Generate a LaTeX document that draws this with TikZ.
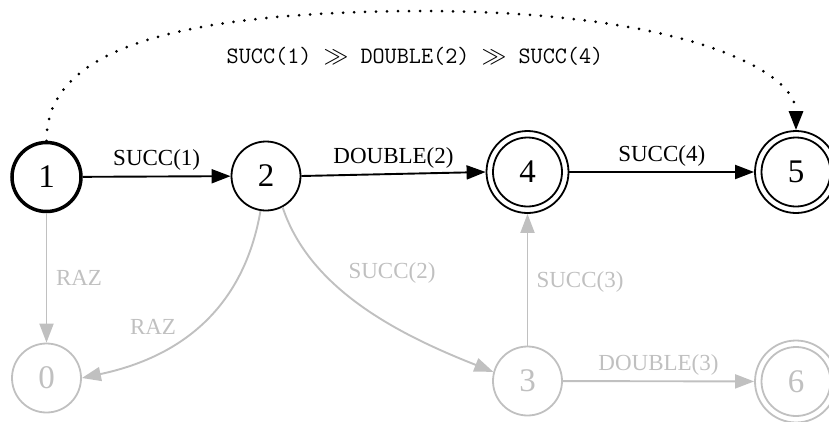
\documentclass[tikz,border=0pt]{standalone}
\usepackage{fontspec}
\newfontfamily\timesf{Liberation Serif}
\usetikzlibrary{arrows.meta}
\definecolor{gv}{HTML}{C0C0C0}
\begin{document}
\begin{tikzpicture}[x=1pt,y=-1pt,
  st/.style={circle,draw,line width=1.8pt,minimum size=69pt,inner sep=0pt,font=\timesf\fontsize{33}{35}\selectfont},
  fin/.style={st,minimum size=82pt},
  ed/.style={line width=1.9pt,-{Triangle[length=19pt,width=14pt]}},
  gr/.style={draw=gv,text=gv},
  lab/.style={font=\timesf\fontsize{23}{25}\selectfont,inner sep=0pt},
  glab/.style={lab,text=gv},
  inner/.style={line width=1.8pt}
]
\useasboundingbox (0,0) rectangle (829,421);
\node[st,line width=3.5pt] (n1) at (46.5,177) {1};
\node[st] (n2) at (266,176) {2};
\node[fin] (n4) at (527.5,172) {4};
\node[fin] (n5) at (796,172) {5};
\node[st,gr] (n0) at (46.5,378) {0};
\node[st,gr] (n3) at (527.5,381) {3};
\node[fin,gr] (n6) at (796,381.5) {6};
\draw[inner] (n4.center) circle (34.5);
\draw[inner] (n5.center) circle (34.5);
\draw[inner,gv] (n6.center) circle (34.5);

\draw[ed] (n1) -- node[lab,above=5pt] {SUCC(1)} (n2);
\draw[ed] (n2.east) -- node[lab,above=5pt] {DOUBLE(2)} (n4.west);
\draw[ed] (n4) -- node[lab,above=5pt] {SUCC(4)} (n5);

\draw[ed,gv] (n1) -- (n0);
\node[glab] (l10) at (79,278) {RAZ};
\draw[ed,gv] (n2.-99) .. controls (245,300) and (190,355) .. (n0.east);
\node[glab] (l20) at (153,327) {RAZ};
\draw[ed,gv] (n2.-62) .. controls (310,290) and (400,335) .. (n3.165);
\node[glab] (l23) at (392,273) {SUCC(2)};
\draw[ed,gv] (n3) -- (n4);
\node[glab] (l34) at (580,282) {SUCC(3)};
\draw[ed,gv] (n3) -- node[glab,above=5pt] {DOUBLE(3)} (n6);

\coordinate (top) at (420,11);
\draw[line width=3pt,dash pattern=on 0pt off 11pt,line cap=round,-{Triangle[length=19pt,width=14pt,line cap=butt]}]
  (n1.north) .. controls (46,58) and (150,12) .. (top)
  .. controls (680,11) and (796,70) .. (n5.north);
\node[inner sep=0pt,font=\ttfamily\fontsize{23.5}{26}\selectfont] (lt) at (415,56)
  {SUCC(1) $\gg$ DOUBLE(2) $\gg$ SUCC(4)};
\end{tikzpicture}
\end{document}
